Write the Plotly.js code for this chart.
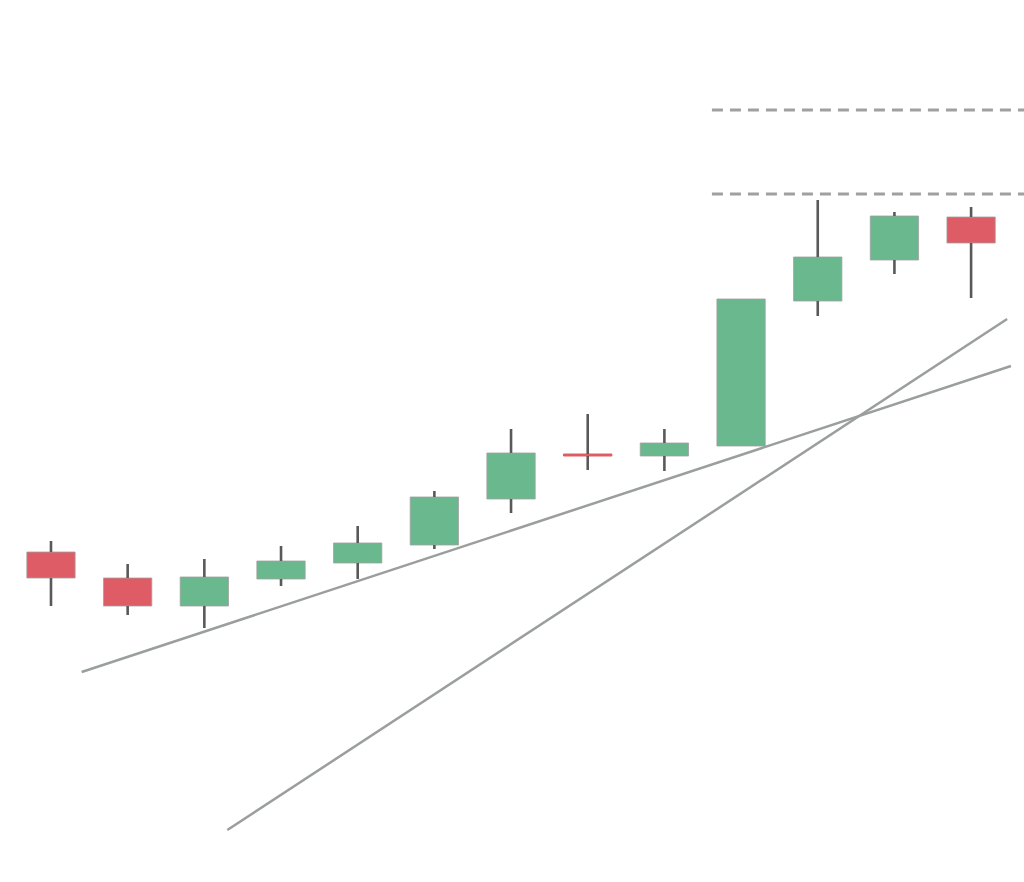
<!DOCTYPE html>
<html>
<head>
<meta charset="utf-8">
<script src="https://cdn.plot.ly/plotly-3.0.1.min.js"></script>
<style>
  html, body { margin: 0; padding: 0; background: #ffffff; }
  #tgtDraw { width: 1024px; height: 882px; }
</style>
</head>
<body>
<div id="tgtDraw"></div>
<script>
// candle data //
var candle_idx = [0, 1, 2, 3, 4, 5, 6, 7, 8, 9, 10, 11, 12];
var open_vals  = [33.0, 30.4, 27.6, 30.3, 31.9, 33.7, 38.3, 42.8, 42.6, 43.6, 58.1, 62.2, 66.5];
var high_vals  = [34.1, 31.8, 32.3, 33.6, 35.6, 39.1, 45.3, 46.8, 45.3, 58.3, 68.2, 67.0, 67.5];
var low_vals   = [27.6, 26.7, 25.4, 29.6, 30.3, 33.3, 36.9, 41.2, 41.1, 43.6, 56.6, 60.8, 58.4];
var close_vals = [30.4, 27.6, 30.5, 32.1, 33.9, 38.5, 42.9, 42.6, 43.9, 58.3, 62.5, 66.6, 63.9];

// trend lines (x in candle index units) //
var trendA_x = [0.40, 12.52];
var trendA_y = [21.0, 51.6];
var trendB_x = [2.30, 12.47];
var trendB_y = [5.2, 56.3];

// resistance levels //
var level_vals = [77.2, 68.8];
var level_x = [8.62, 13.2];

var col_up = "#6ab88e";
var col_down = "#de5c65";
var col_wick = "#595959";
var col_line = "#9a9e9c";

function build_traces()
{
	var base = [], height = [], fill = [], edge = [];
	var wx = [], wy = [];
	for (var i = 0; i < candle_idx.length; i++)
	{
		var o = open_vals[i], c = close_vals[i];
		var top = Math.max(o, c), bot = Math.min(o, c);
		base.push(bot);
		height.push(top - bot);
		var clr = (c >= o) ? col_up : col_down;
		fill.push(clr);
		// doji gets its own colour on the edge, otherwise a thin grey rim
		edge.push((top - bot) < 0.3 ? clr : "rgba(160,160,160,0.8)");
		// upper wick
		wx.push(candle_idx[i], candle_idx[i], null);
		wy.push(top, high_vals[i], null);
		// lower wick
		wx.push(candle_idx[i], candle_idx[i], null);
		wy.push(bot, low_vals[i], null);
	}

	var wicks = {
		x: wx, y: wy, mode: "lines", type: "scatter",
		line: {color: col_wick, width: 2.6},
		hoverinfo: "skip"
	};
	var bodies = {
		x: candle_idx, y: height, base: base, type: "bar",
		width: 0.63,
		marker: {color: fill, line: {color: edge, width: 1}}
	};
	var tA = {
		x: trendA_x, y: trendA_y, mode: "lines", type: "scatter",
		line: {color: col_line, width: 2.5}
	};
	var tB = {
		x: trendB_x, y: trendB_y, mode: "lines", type: "scatter",
		line: {color: col_line, width: 2.5}
	};
	var data = [bodies, wicks, tA, tB];
	for (var k = 0; k < level_vals.length; k++)
	{
		data.push({
			x: level_x, y: [level_vals[k], level_vals[k]],
			mode: "lines", type: "scatter",
			line: {color: "#a0a0a0", width: 3, dash: "11px,7px"}
		});
	}
	return data;
}

function plot_chart()
{
	var layout = {
		width: 1024,
		height: 882,
		margin: {l: 0, r: 0, t: 0, b: 0},
		paper_bgcolor: "#ffffff",
		plot_bgcolor: "#ffffff",
		showlegend: false,
		xaxis: {range: [-0.665, 12.69], visible: false, fixedrange: true},
		yaxis: {range: [0, 88.2], visible: false, fixedrange: true}
	};
	Plotly.newPlot('tgtDraw', build_traces(), layout, {displayModeBar: false, staticPlot: true});
}

plot_chart();
</script>
</body>
</html>
